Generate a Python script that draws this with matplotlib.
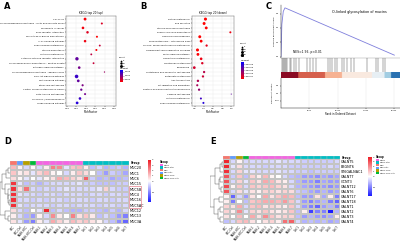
import numpy as np
import matplotlib
matplotlib.use("Agg")
from matplotlib import pyplot as plt
from matplotlib.colors import LinearSegmentedColormap, TwoSlopeNorm, Normalize
from matplotlib.patches import Rectangle

W, H = 400, 247

# ---------------- data ----------------
pathA = ["Cell cycle", "Glycosphingolipid biosynthesis - lacto and neolacto series",
         "MicroRNAs in cancer", "ECM-receptor interaction", "Mucin type O-glycan biosynthesis",
         "IL-17 signaling pathway", "Phenylalanine metabolism", "Steroid biosynthesis",
         "Histidine metabolism", "Cytokine-cytokine receptor interaction",
         "Glycosaminoglycan biosynthesis - keratan sulfate", "Estrogen signaling pathway",
         "Glycosphingolipid biosynthesis - ganglio series", "PI3K-Akt signaling pathway",
         "Wnt signaling pathway", "Ether lipid metabolism", "Central carbon metabolism in cancer",
         "beta-Alanine metabolism", "Glycolysis / Gluconeogenesis", "Hippo signaling pathway"]
richA = [0.146, 0.235, 0.135, 0.159, 0.209, 0.146, 0.224, 0.206, 0.179, 0.103,
         0.191, 0.115, 0.249, 0.101, 0.110, 0.133, 0.126, 0.146, 0.119, 0.104]
countA = [14, 7, 12, 11, 7, 11, 6, 7, 6, 20, 6, 12, 3, 22, 13, 8, 9, 7, 12, 13]
padjA = [0.0008, 0.0015, 0.0009, 0.0014, 0.0006, 0.0010, 0.0020, 0.0007, 0.0022, 0.0045,
         0.0020, 0.0040, 0.0030, 0.0055, 0.0045, 0.0038, 0.0042, 0.0040, 0.0055, 0.0060]

pathB = ["Retinol metabolism", "Bile secretion", "Steroid hormone biosynthesis",
         "Primary bile acid biosynthesis", "Chemical carcinogenesis",
         "Drug metabolism - cytochrome P450", "Glycine, serine and threonine metabolism",
         "Complement and coagulation cascades", "PPAR signaling pathway",
         "Cholesterol metabolism", "Tryptophan metabolism", "Peroxisome",
         "Glutathione and xenobiotic metabolism", "Butanoate metabolism", "ABC transporters",
         "Fat digestion and absorption", "Pentose and glucuronate interconversions",
         "Caffeine metabolism", "Histidine metabolism", "Phenylalanine metabolism"]
richB = [0.435, 0.405, 0.452, 0.98, 0.31, 0.34, 0.46, 0.26, 0.27, 0.34,
         0.365, 0.19, 0.405, 0.38, 0.27, 0.255, 0.295, 1.0, 0.335, 0.39]
countB = [16, 15, 14, 7, 15, 14, 9, 16, 14, 12, 10, 13, 9, 9, 10, 8, 9, 2, 7, 7]
padjB = [1e-9, 1e-9, 2e-8, 2e-7, 1e-8, 2e-8, 3e-7, 1e-8, 5e-8, 2e-7,
         4e-7, 5e-7, 8e-7, 6e-7, 9e-7, 1e-6, 1.2e-6, 1.8e-6, 2.2e-6, 2.5e-6]

# GSEA (panel C)
es_rank = [0, 150, 400, 700, 1000, 20000]
es_val = [0.0, 0.45, 0.63, 0.68, 0.67, 0.02]
hit_rank = [110, 300, 500, 670, 900, 1100, 1510, 1800, 2350, 2700, 3190, 4590, 5100,
            5710, 6100, 8230, 8700, 9075, 9500, 9915, 10750, 11100, 11600, 12440, 12800,
            15240, 16750, 17200, 18030, 18320]
metric_edges = [0, 2900, 7400, 10250, 15300, 17400, 18500, 20000]
metric_vals = [0.9, 0.6, 0.35, 0.1, -0.08, -0.35, -0.75]

# heatmaps (panels D, E)
cols = ["HCC", "HCC-Ctrl", "NASH-HCC", "NASH-HCC-Ctrl",
        "NASH-1", "NASH-2", "NASH-3", "NASH-4", "NASH-5", "NASH-6", "NASH-7",
        "Ctrl-1", "Ctrl-2", "Ctrl-3", "Ctrl-4", "Ctrl-5", "Ctrl-6", "Ctrl-7"]
col_group = [2, 3, 4, 5, 0, 0, 0, 0, 0, 0, 0, 1, 1, 1, 1, 1, 1, 1]
group_names = ["NASH", "NASH-Ctrl", "HCC", "HCC-Ctrl", "NASH-HCC", "NASH-HCC-Ctrl"]
group_colors = ["#F564E3", "#00BFC4", "#F8766D", "#619CFF", "#B79F00", "#00BA38"]

rowsD = ["MUC20", "MUC1", "MUC6", "MUC15", "MUC5B", "MUC4", "MUC16", "MUC5AC",
         "MUC12", "MUC13", "MUC3A"]
valsD = [
    [1.2, 0.2, -0.3, 0.1, -0.3, 0.3, 2.2, 2.0, -0.2, 1.0, 1.2, 0.3, -0.5, -0.3, -0.6, -0.5, -0.4, -0.6],
    [1.0, 0.3, 0.5, -0.2, 0.8, 1.2, 0.2, 0.0, -0.3, 0.3, 1.0, 0.6, 0.0, -0.5, -0.8, -0.4, -0.5, -0.7],
    [0.6, 0.1, -0.2, 0.0, -0.2, 0.2, 0.5, 1.5, 1.2, 0.8, 0.5, 2.8, -0.4, -0.6, -0.5, -0.7, -0.6, -0.5],
    [3.5, -0.2, -0.5, -0.4, -0.6, -0.4, -0.3, -0.3, -0.3, -0.3, -0.2, -0.4, -0.4, -0.5, -0.5, -0.5, -0.4, -0.4],
    [3.6, 0.5, 2.5, -0.3, -0.4, -0.3, -0.4, -0.3, -0.2, -0.3, -0.3, -0.3, -0.3, -0.2, 0.8, -0.3, -0.4, -0.4],
    [3.6, -0.2, -0.3, -0.3, -0.4, -0.3, -0.3, -0.4, -0.3, -0.3, -0.3, -0.4, -0.3, -0.3, -0.4, -0.3, -0.3, -0.4],
    [3.6, -0.3, -0.3, -0.4, -0.3, -0.4, -0.3, -0.3, -0.4, -0.3, -0.3, -0.3, -0.4, -0.3, -0.3, -0.4, -0.3, -0.3],
    [3.6, -0.2, -0.4, -0.3, -0.3, -0.3, -0.4, -0.3, -0.3, -0.4, -0.3, -0.3, -0.3, -0.4, -0.3, -0.3, -0.4, -0.3],
    [0.6, -0.3, -0.5, 0.0, -0.2, 3.8, -0.5, -0.3, -0.5, -0.6, -0.6, -0.4, -0.4, -0.5, -0.6, -0.4, -0.6, -0.3],
    [0.3, -0.3, -0.6, -0.8, 0.2, -0.3, 2.0, 0.4, 0.0, 2.2, 0.5, 1.0, 0.4, -0.5, -0.3, -0.5, -0.8, -1.0],
    [0.5, -0.2, -0.8, -1.0, 0.3, -0.2, 1.5, 0.8, 0.3, 1.2, 0.8, 1.0, 0.5, 0.2, -0.3, -0.5, -0.9, -1.2],
]
treeD = ((((0, 1, 1.0), 2, 2.0), (3, (4, (5, (6, 7, 0.4), 0.8), 1.2), 2.6), 4.0),
         (8, (9, 10, 1.2), 2.4), 5.0)

rowsE = ["GALNT5", "B3GNT6", "ST6GALNAC1", "GALNT7", "GCNT3", "GALNT12", "GALNT6",
         "GALNT17", "GALNT18", "GALNT1", "GALNT2", "GALNT3", "GALNT4"]
valsE = [
    [3.8, -0.3, 0.2, -0.3, -0.3, -0.3, -0.3, -0.3, -0.2, -0.3, -0.3, -0.3, -0.4, -0.4, -0.4, -0.4, -0.4, -0.3],
    [3.8, -0.2, 0.6, -0.3, -0.3, -0.3, -0.4, -0.3, -0.3, -0.3, -0.4, -0.4, -0.4, -0.4, -0.4, -0.4, -0.3, -0.4],
    [3.6, -0.3, 0.8, -0.2, -0.2, -0.3, -0.3, -0.3, -0.2, -0.3, -0.3, -0.4, -0.4, -0.5, -0.4, -0.4, -0.4, -0.4],
    [3.0, -0.4, 1.0, -0.5, 0.8, 0.3, 1.2, 0.2, 0.0, -0.3, -0.5, -0.6, -0.8, -0.8, -0.9, -0.7, -0.8, -0.7],
    [3.0, -0.3, 0.8, -0.2, 1.0, 0.5, 1.5, 1.2, 0.5, 0.3, -0.3, -0.6, -0.8, -0.8, -1.0, -0.7, -0.8, -0.8],
    [3.2, 0.2, 1.0, -0.3, 1.0, 0.8, 1.0, 1.2, 0.8, 0.5, -0.3, -0.6, -0.7, -0.8, -0.9, -0.8, -0.9, -0.8],
    [3.0, -0.3, 0.6, -0.2, 0.5, 0.2, 0.8, 0.8, 0.5, 0.8, 0.6, -0.4, -0.5, -0.7, -0.8, -0.6, -0.8, -0.7],
    [0.2, -1.2, -0.3, -0.8, 0.5, 0.0, 1.5, 0.5, 1.0, 1.5, 1.2, -0.5, -0.8, -0.8, 0.5, -0.7, 0.3, -1.0],
    [0.3, -1.0, 0.0, -0.5, 1.0, 1.2, 1.5, 1.5, 1.2, 1.8, 1.0, -0.3, -0.8, -1.0, -0.8, -0.6, -1.0, -1.2],
    [0.8, 0.5, 1.5, -0.3, 1.0, 1.2, 0.5, 0.8, 0.5, 0.3, 1.0, -0.3, -0.8, -1.0, -1.2, -0.8, -0.6, -1.0],
    [0.8, 0.3, 2.0, -0.2, 0.8, 0.5, 1.0, 0.5, 0.3, 0.5, 1.0, -0.5, 0.3, -1.5, -1.0, -1.0, -2.5, -0.6],
    [0.5, 0.0, 1.2, 0.0, 1.5, 0.5, 2.0, 1.0, 0.5, 0.8, 0.8, -0.5, -0.8, -0.6, -0.8, -0.9, -0.7, 0.3],
    [-0.5, -0.3, 1.0, 1.2, 0.5, 0.0, 0.5, 0.8, 0.3, 2.5, 2.8, -0.3, -0.6, -0.5, -0.6, -0.5, -0.7, -0.6],
]
treeE = ((((0, 1, 0.5), 2, 1.0), ((3, 4, 1.0), (5, 6, 0.8), 1.5), 3.0),
         ((7, 8, 1.5), ((9, 10, 1.0), (11, 12, 1.2), 2.0), 3.5), 5.0)

# ---------------- helpers ----------------
fig = plt.figure(figsize=(4.0, 2.47), dpi=100)
plt.rcParams["font.family"] = "DejaVu Sans"
plt.rcParams["axes.linewidth"] = 0.3


def pax(x0, y0, x1, y1):
    return fig.add_axes([x0 / W, 1 - y1 / H, (x1 - x0) / W, (y1 - y0) / H])


fs = 1.6
rb = LinearSegmentedColormap.from_list("rb", ["#ff0000", "#0000ff"])


def dotplot(box, names, rich, count, padj, title, xt, xlim, leg_xy, cb_box, cnt_leg, cb_ticks, cb_fmt):
    ax = pax(*box)
    y = np.arange(len(names))
    norm = Normalize(min(padj), max(padj) * 1.15)
    sc = ax.scatter(rich, y, s=np.array(count) * 0.3, c=padj, cmap=rb, norm=norm,
                    linewidths=0, zorder=3)
    ax.set_yticks(y)
    ax.set_yticklabels(names, fontsize=fs)
    ax.set_ylim(len(names) - 0.3, -0.7)
    ax.set_xlim(*xlim)
    ax.set_xticks(xt)
    ax.set_xticklabels([f"{v:.2f}" if xt[0] < 0.1 else f"{v:.1f}" for v in xt], fontsize=fs)
    ax.tick_params(length=0.8, width=0.3, pad=0.6)
    ax.grid(color="#ebebeb", lw=0.3)
    ax.set_axisbelow(True)
    for s in ax.spines.values():
        s.set_color("#555555")
    ax.set_title(title, fontsize=2.0, pad=1.2)
    ax.set_xlabel("RichFactor", fontsize=2.0, labelpad=0.6)
    # size legend
    lx0, ly0 = leg_xy
    fig.text(lx0 / W, 1 - ly0 / H, "Count", fontsize=1.6, va="top")
    for i, c in enumerate(cnt_leg):
        yy = ly0 + 3.8 + i * 2.6
        la = pax(lx0, yy - 1.3, lx0 + 3, yy + 1.3)
        la.axis("off")
        la.scatter([0], [0], s=c * 0.3, color="black", linewidths=0)
        la.set_xlim(-1, 1)
        la.set_ylim(-1, 1)
        fig.text((lx0 + 3.8) / W, 1 - yy / H, str(c), fontsize=1.5, va="center")
    cx0, cy0, cx1, cy1 = cb_box
    fig.text(cx0 / W, 1 - (cy0 - 0.8) / H, "p.adjust", fontsize=1.6, va="bottom")
    cax = pax(*cb_box)
    cb = fig.colorbar(sc, cax=cax)
    cb.set_ticks(cb_ticks)
    cb.set_ticklabels([cb_fmt(t) for t in cb_ticks])
    cb.ax.tick_params(labelsize=1.5, length=0.6, width=0.3, pad=0.5)
    cb.outline.set_visible(False)
    return ax


# ---------------- panel A ----------------
dotplot((66, 16, 116, 106), pathA, richA, countA, padjA, "KEGG top 20 (up)",
        [0.05, 0.10, 0.15, 0.20, 0.25, 0.30], (0.045, 0.31),
        (119, 57), (120, 70, 123, 82), [5, 10, 15],
        [0.002, 0.004, 0.006], lambda t: f"{t:.3f}")

# ---------------- panel B ----------------
dotplot((192, 16, 234, 106), pathB, richB, countB, padjB, "KEGG top 20 (down)",
        [0.2, 0.4, 0.6, 0.8, 1.0], (0.14, 1.06),
        (240, 43), (241, 62, 244, 79), [5, 10, 15, 20],
        [5e-7, 1e-6, 1.5e-6, 2e-6, 2.5e-6], lambda t: f"{t:.1e}")

# ---------------- panel C ----------------
XMAX = 21000
axC = pax(281, 5, 400, 58)
axC.plot(es_rank, es_val, color="#7f7fdc", lw=0.6)
axC.set_xlim(0, XMAX)
axC.set_ylim(-0.02, 0.72)
axC.set_xticks([])
axC.set_yticks([0.0, 0.2, 0.4, 0.6])
axC.tick_params(labelsize=1.4, length=0.8, width=0.3, pad=0.5)
axC.spines["top"].set_visible(False)
axC.spines["right"].set_visible(False)
axC.spines["bottom"].set_color("#999999")
axC.set_ylabel("Running Enrichment Score", fontsize=1.6, labelpad=0.8)
axC.text(0.43, 0.84, "O-linked glycosylation of mucins", transform=axC.transAxes,
         fontsize=2.4)
axC.text(0.1, 0.1, "NES=1.96, p<0.01", transform=axC.transAxes, fontsize=2.2)

axH = pax(281, 58, 400, 72)
axH.vlines(hit_rank, 0, 1, color="black", lw=0.3, alpha=0.8)
axH.set_xlim(0, XMAX)
axH.set_ylim(0, 1)
axH.axis("off")

axM = pax(281, 72, 400, 78)
ranks = np.arange(0, 20000, 50)
mv = np.array(metric_vals)[np.searchsorted(metric_edges, ranks, side="right") - 1]
axM.imshow(mv[None, :], aspect="auto", cmap="RdBu_r", vmin=-1, vmax=1,
           extent=(0, 20000, 0, 1))
axM.set_xlim(0, 20000)
axM.axis("off")

axR = pax(281, 78, 400, 108)
axR.set_xlim(0, XMAX)
axR.set_ylim(-1, 1)
axR.set_xticks([5000, 10000, 15000, 20000])
axR.set_xticklabels(["5000", "10000", "15000", "20000"], fontsize=1.4)
axR.set_yticks([-0.5, 0, 0.5])
axR.tick_params(labelsize=1.4, length=0.8, width=0.3, pad=0.5)
axR.grid(axis="x", color="#e5e5e5", lw=0.3)
axR.spines["top"].set_visible(False)
axR.spines["right"].set_visible(False)
axR.set_ylabel("Ranked list metric", fontsize=1.6, labelpad=0.8)
axR.set_xlabel("Rank in Ordered Dataset", fontsize=1.8, labelpad=0.8)

# ---------------- heatmaps ----------------
hm_cmap = LinearSegmentedColormap.from_list("bwr2", ["#1a1aff", "#ffffff", "#ee1c25"])
hm_norm = TwoSlopeNorm(vmin=-1.8, vcenter=0, vmax=4)


def draw_tree(ax, node):
    if isinstance(node, int):
        return node + 0.5, 0.0
    l, r, h = node
    yl, hl = draw_tree(ax, l)
    yr, hr = draw_tree(ax, r)
    ax.plot([hl, h, h, hr], [yl, yl, yr, yr], color="#444444", lw=0.3)
    return (yl + yr) / 2, h


def heatmap(hm_box, den_box, bar_box, rows, vals, tree, cb_box, leg_xy, box_rows=None):
    v = np.array(vals)
    ax = pax(*hm_box)
    ax.pcolormesh(v, cmap=hm_cmap, norm=hm_norm, edgecolors="#c4c4c4", linewidth=0.2)
    ax.set_xlim(0, v.shape[1])
    ax.set_ylim(v.shape[0], 0)
    ax.yaxis.tick_right()
    ax.set_yticks(np.arange(v.shape[0]) + 0.5)
    ax.set_yticklabels(rows, fontsize=2.4)
    ax.set_xticks(np.arange(v.shape[1]) + 0.5)
    ax.set_xticklabels(cols, fontsize=1.8, rotation=50, ha="right", va="top",
                       rotation_mode="anchor")
    ax.tick_params(length=0, pad=0.8)
    for s in ax.spines.values():
        s.set_visible(False)
    rowh = (hm_box[3] - hm_box[1]) / v.shape[0]
    if box_rows is not None:
        r0, r1 = box_rows
        x0 = hm_box[2] + 0.3
        rect = Rectangle((x0 / W, 1 - (hm_box[1] + r1 * rowh) / H),
                         11.5 / W, (r1 - r0) * rowh / H,
                         transform=fig.transFigure, fill=False, edgecolor="#e06070", lw=0.4)
        fig.add_artist(rect)
    # annotation bar
    axg = pax(*bar_box)
    gcols = [group_colors[g] for g in col_group]
    for i, c in enumerate(gcols):
        axg.add_patch(Rectangle((i, 0), 1, 1, facecolor=c, edgecolor="#c4c4c4", lw=0.2))
    axg.set_xlim(0, len(gcols))
    axg.set_ylim(0, 1)
    axg.axis("off")
    axg.text(len(gcols) + 0.3, 0.5, "Group", fontsize=2.0, va="center", fontweight="bold")
    # dendrogram
    axd = pax(*den_box)
    _, hmax = draw_tree(axd, tree)
    axd.set_xlim(hmax * 1.02, 0)
    axd.set_ylim(v.shape[0], 0)
    axd.axis("off")
    # colorbar
    cax = pax(*cb_box)
    sm = plt.cm.ScalarMappable(norm=hm_norm, cmap=hm_cmap)
    cb = fig.colorbar(sm, cax=cax)
    cb.set_ticks([-1, 0, 1, 2, 3, 4])
    cb.ax.tick_params(labelsize=1.6, length=0, pad=0.6)
    cb.outline.set_visible(False)
    # group legend
    gx, gy = leg_xy
    fig.text(gx / W, 1 - gy / H, "Group", fontsize=1.8, va="center", fontweight="bold")
    for i, (n, c) in enumerate(zip(group_names, group_colors)):
        yy = gy + 3 + i * 2.6
        fig.add_artist(Rectangle((gx / W, 1 - (yy + 1.2) / H), 2.6 / W, 2.4 / H,
                                 transform=fig.transFigure, facecolor=c, edgecolor="none"))
        fig.text((gx + 3.4) / W, 1 - yy / H, n, fontsize=1.5, va="center")


heatmap((10, 165, 129, 224), (0, 165, 10, 224), (10, 161, 129, 165), rowsD, valsD, treeD,
        (148, 160, 151, 202), (160, 162), box_rows=(4, 8))
heatmap((223, 159, 340, 224), (210, 159, 223, 224), (223, 156, 340, 159), rowsE, valsE, treeE,
        (368, 157, 372, 196), (376, 157))

# panel letters
for lab, x, y in [("A", 4, 9), ("B", 140, 9), ("C", 266, 9), ("D", 4, 144), ("E", 210, 144)]:
    fig.text(x / W, 1 - y / H, lab, fontsize=6, fontweight="bold")

fig.savefig("out.png", dpi=100)
